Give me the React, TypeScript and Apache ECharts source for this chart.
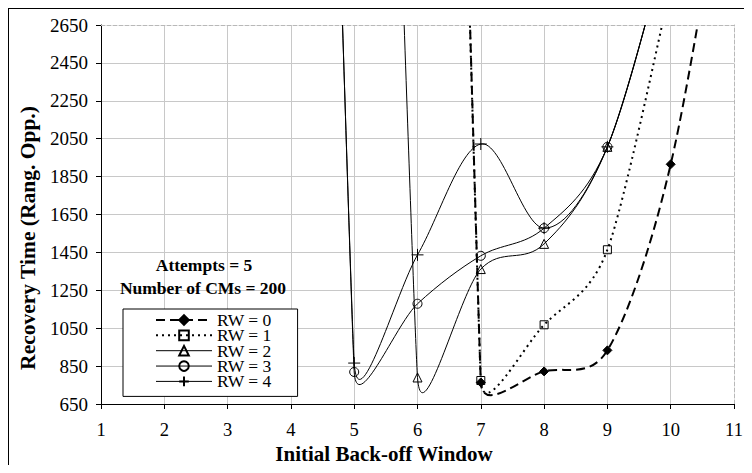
import React, { useEffect, useRef } from "react";
import * as echarts from "echarts";

// Initial back-off window (x)
const backoff = [4, 5, 6, 7, 8, 9, 10, 11];
// Recovery time per RW (values above 2650 run off the top of the chart)
const rw0 = [null, null, 12300, 764, 822, 933, 1915, 3800];
const rw1 = [null, null, 12300, 774, 1068, 1464, 2850, null];
const rw2 = [null, 10400, 790, 1362, 1495, 2007, 3150, null];
const rw3 = [11400, 819, 1179, 1432, 1578, 2007, 3150, null];
const rw4 = [11400, 866, 1437, 2022, 1578, 2007, 3150, null];
const seriesNames = ["RW = 0", "RW = 1", "RW = 2", "RW = 3", "RW = 4"];
const annotations = ["Attempts = 5", "Number of CMs = 200"];

const FONT = "'Liberation Serif', 'Times New Roman', serif";

function pairs(vals: (number | null)[]) {
  return backoff
    .map((x, i) => [x, vals[i]])
    .filter((p) => p[1] !== null) as number[][];
}

// Excel-like smoothed Bezier path through pixel points
function smoothPath(px: number[][]) {
  const n = px.length;
  const dist = (a: number[], b: number[]) => Math.hypot(a[0] - b[0], a[1] - b[1]);
  const arms = px.map((p, i) => {
    const prev = i > 0 ? px[i - 1] : p;
    const next = i < n - 1 ? px[i + 1] : p;
    const tx = next[0] - prev[0];
    const ty = next[1] - prev[1];
    const tl = Math.hypot(tx, ty) || 1;
    const dp = i > 0 ? dist(p, prev) : Infinity;
    const dn = i < n - 1 ? dist(p, next) : Infinity;
    const L = Math.min(tl / 6, dp / 2, dn / 2);
    return [(tx / tl) * L, (ty / tl) * L];
  });
  let d = `M${px[0][0]},${px[0][1]}`;
  for (let i = 0; i < n - 1; i++) {
    const a = px[i];
    const b = px[i + 1];
    const c1 = [a[0] + arms[i][0], a[1] + arms[i][1]];
    const c2 = [b[0] - arms[i + 1][0], b[1] - arms[i + 1][1]];
    d += ` C${c1[0]},${c1[1]} ${c2[0]},${c2[1]} ${b[0]},${b[1]}`;
  }
  return d;
}

export default function App() {
  const ref = useRef<HTMLDivElement>(null);
  useEffect(() => {
    if (!ref.current) return;
    const chart = echarts.init(ref.current, null, { renderer: "svg" });

    const defs = [
      { vals: rw0, symbol: "diamond", size: 9, fill: "#000", width: 2, dash: [9, 5] as any },
      { vals: rw1, symbol: "rect", size: 8, fill: "transparent", width: 2, dash: [2, 4] as any },
      { vals: rw2, symbol: "triangle", size: 9, fill: "transparent", width: 1, dash: null },
      { vals: rw3, symbol: "circle", size: 9, fill: "transparent", width: 1, dash: null },
      { vals: rw4, symbol: "path://M0,6 L12,6 M6,0 L6,12", size: 12, fill: "transparent", width: 1, dash: null },
    ];

    const markerSeries = defs.map((s, i) => ({
      type: "line",
      name: seriesNames[i],
      data: pairs(s.vals),
      clip: true,
      smooth: false,
      symbol: s.symbol,
      symbolSize: s.size,
      symbolKeepAspect: true,
      itemStyle: { color: s.fill, borderColor: "#000", borderWidth: 1 },
      lineStyle: { color: "#000", width: 0 },
      z: 6,
    }));

    const curveSeries = defs.map((s, i) => {
      const pts = pairs(s.vals);
      return {
        type: "custom",
        name: seriesNames[i] + " curve",
        coordinateSystem: "cartesian2d",
        clip: true,
        silent: true,
        z: 3,
        data: pts,
        renderItem: (params: any, api: any) => {
          if (params.dataIndex !== 0) return null;
          const px = pts.map((p) => api.coord(p));
          return {
            type: "path",
            shape: { pathData: smoothPath(px) },
            style: {
              fill: "none",
              stroke: "#000",
              lineWidth: s.width,
              lineDash: s.dash || undefined,
            },
          };
        },
      };
    });

    const legendData = defs.map((s, i) => ({
      name: seriesNames[i],
      lineStyle: {
        color: "#000",
        width: s.width,
        type: s.dash ? s.dash : "solid",
        opacity: 1,
      },
      itemStyle: { opacity: 1 },
    }));

    const option: any = {
      animation: false,
      backgroundColor: "#fff",
      grid: { left: 92, top: 16, width: 633, height: 379, containLabel: false },
      xAxis: [
        {
          type: "value",
          min: 1,
          max: 11,
          interval: 1,
          name: "Initial Back-off Window",
          nameLocation: "middle",
          nameGap: 34,
          nameTextStyle: {
            fontFamily: FONT,
            fontWeight: "bold",
            fontSize: 21,
            color: "#000",
            padding: [0, 67, 0, 0],
          },
          axisLine: { onZero: false, lineStyle: { color: "#000", width: 1 } },
          axisTick: { show: true, length: 5, lineStyle: { color: "#000" } },
          axisLabel: {
            fontFamily: FONT,
            fontSize: 18.5,
            color: "#000",
            margin: 16,
            formatter: (v: number) => String(v),
          },
          splitLine: { show: true, showMaxLine: false, lineStyle: { color: "#c8c8c8", width: 1 } },
        },
        {
          type: "value",
          position: "top",
          min: 1,
          max: 11,
          interval: 1,
          axisLine: { onZero: false, lineStyle: { color: "#b8b8b8", type: "dashed" } },
          axisTick: { show: false },
          axisLabel: { show: false },
          splitLine: { show: false },
        },
      ],
      yAxis: [
        {
          type: "value",
          min: 650,
          max: 2650,
          interval: 200,
          name: "Recovery Time (Rang. Opp.)",
          nameLocation: "middle",
          nameGap: 60,
          nameTextStyle: {
            fontFamily: FONT,
            fontWeight: "bold",
            fontSize: 21.5,
            color: "#000",
            padding: [0, 47, 0, 0],
          },
          axisLine: { show: true, onZero: false, lineStyle: { color: "#000", width: 1 } },
          axisTick: { show: true, length: 5, lineStyle: { color: "#000" } },
          axisLabel: {
            fontFamily: FONT,
            fontSize: 19,
            color: "#000",
            margin: 13,
            formatter: (v: number) => String(v),
          },
          splitLine: { show: true, showMaxLine: false, lineStyle: { color: "#c8c8c8", width: 1 } },
        },
        {
          type: "value",
          position: "right",
          min: 650,
          max: 2650,
          interval: 200,
          axisLine: { show: true, onZero: false, lineStyle: { color: "#b8b8b8", type: "dashed" } },
          axisTick: { show: false },
          axisLabel: { show: false },
          splitLine: { show: false },
        },
      ],
      legend: {
        orient: "vertical",
        left: 114,
        top: 300,
        itemWidth: 56,
        itemHeight: 12,
        itemGap: -2.65,
        padding: [2, 26, 6, 32],
        borderColor: "#000",
        borderWidth: 1,
        backgroundColor: "#fff",
        textStyle: { fontFamily: FONT, fontSize: 17.5, color: "#000" },
        data: legendData,
      },
      graphic: [
        {
          type: "text",
          x: 195,
          y: 256,
          style: {
            text: annotations[0],
            fontFamily: FONT,
            fontWeight: "bold",
            fontSize: 17.5,
            fill: "#000",
            align: "center",
            verticalAlign: "middle",
          },
          z: 10,
        },
        {
          type: "text",
          x: 194,
          y: 279,
          style: {
            text: annotations[1],
            fontFamily: FONT,
            fontWeight: "bold",
            fontSize: 17.5,
            fill: "#000",
            align: "center",
            verticalAlign: "middle",
          },
          z: 10,
        },
      ],
      series: [...markerSeries, ...curveSeries],
    };
    chart.setOption(option);
    return () => chart.dispose();
  }, []);
  return (
    <div style={{ width: 739, height: 457, overflow: "hidden" }}>
      <div style={{ width: 737, height: 470, border: "1px solid #000" }}>
        <div ref={ref} style={{ width: 737, height: 470 }} />
      </div>
    </div>
  );
}
